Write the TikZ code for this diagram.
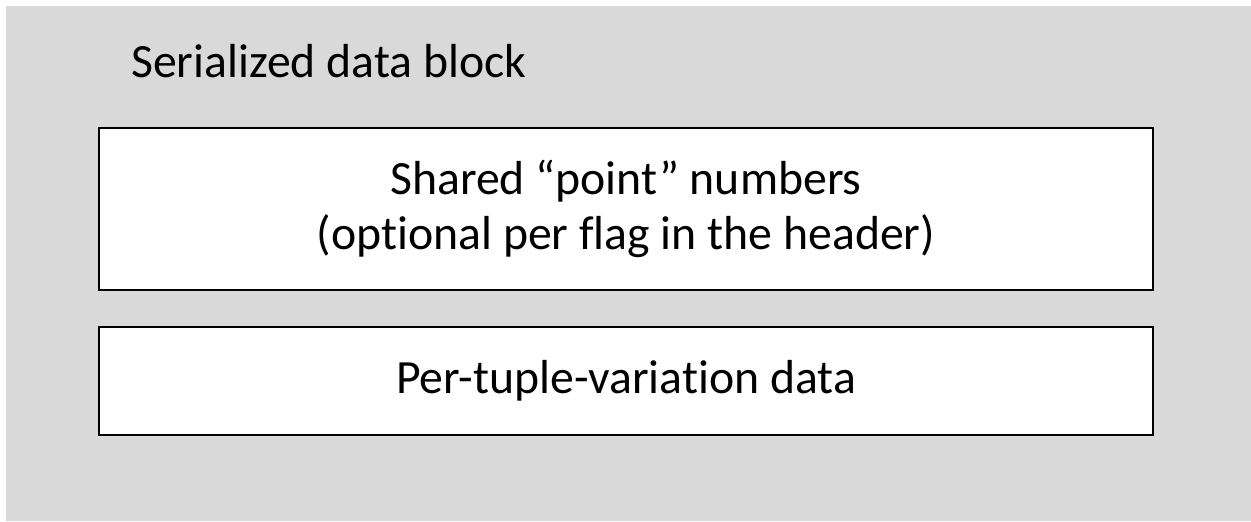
\documentclass[tikz,border=0pt]{standalone}
\usepackage{fontspec}
\setmainfont[Ligatures=NoCommon]{Carlito}
\usetikzlibrary{positioning}

\definecolor{blockgray}{HTML}{D9D9D9}

\tikzset{
  fieldbox/.style={draw=black, line width=1.5pt, fill=white,
    minimum width=790.5pt, align=center, inner sep=0pt},
  caption/.style={inner sep=0pt, anchor=base west}
}

\begin{document}
\begin{tikzpicture}[x=0.75pt,y=-0.75pt,node distance=26.25pt,
  every node/.style={font=\fontsize{35.8}{41.5}\selectfont}]

  \useasboundingbox (0,0) rectangle (1251,521);
  \fill[blockgray] (6,6) rectangle (1251,521);

  \node[caption] (title) at (131,77) {Serialized data block};

  \node[fieldbox, minimum height=121.5pt] (points) at (626,209)
    {Shared “point” numbers\\(optional per flag in the header)};

  \node[fieldbox, minimum height=81pt] (tuples) [below=of points]
    {Per-tuple-variation data};

\end{tikzpicture}
\end{document}
